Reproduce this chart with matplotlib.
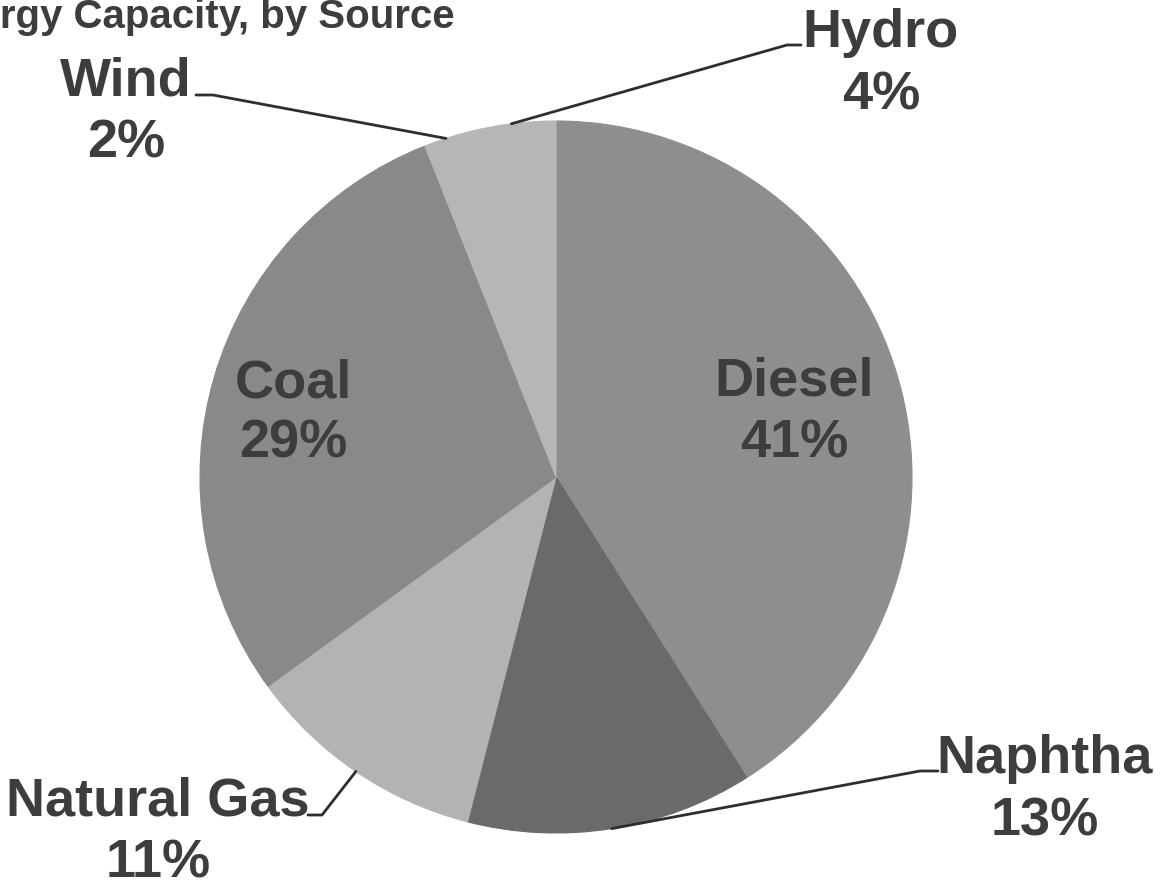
import matplotlib
matplotlib.use("Agg")
import matplotlib.pyplot as plt
import numpy as np

# Share of installed capacity by source (percent), clockwise from 12 o'clock
sources = ["Diesel", "Naphtha", "Natural Gas", "Coal", "Wind", "Hydro"]
shares = [41, 13, 11, 29, 2, 4]
colors = ["#8e8e8e", "#6a6a6a", "#b3b3b3", "#898989", "#b6b6b6", "#b6b6b6"]
title = "Energy Capacity, by Source"

W, H = 1163, 893
DPI = 100
plt.rcParams["font.family"] = ["Liberation Sans", "DejaVu Sans"]
TXT = "#3d3d3d"

fig = plt.figure(figsize=(W / DPI, H / DPI), dpi=DPI, facecolor="white")

# pie centre and radius in pixels (from top-left)
CX, CY, R = 556, 477, 356
ax = fig.add_axes([(CX - R) / W, (H - CY - R) / H, 2 * R / W, 2 * R / H])
wedges, _ = ax.pie(shares, colors=colors, startangle=90, counterclock=False,
                   radius=1.0)
# outline each wedge in its own colour so neighbouring slices meet without seams
for w in wedges:
    w.set_edgecolor(w.get_facecolor())
    w.set_linewidth(0.8)
ax.set_xlim(-1, 1)
ax.set_ylim(-1, 1)
ax.set_aspect("equal")
ax.axis("off")


def px(x, y):
    """pixel position (top-left origin) -> pie data coordinates"""
    return (x - CX) / R, (CY - y) / R


def wedge_edge(i, r=1.0):
    w = wedges[i]
    a = np.deg2rad((w.theta1 + w.theta2) / 2)
    return r * np.cos(a), r * np.sin(a)


FS = 39


def label(i, cx, y_name, y_pct):
    x, _ = px(cx, 0)
    ax.text(x, px(0, y_name)[1], sources[i], ha="center", va="baseline",
            fontsize=FS, fontweight="bold", color=TXT, clip_on=False)
    ax.text(x, px(0, y_pct)[1], f"{shares[i]}%", ha="center", va="baseline",
            fontsize=FS, fontweight="bold", color=TXT, clip_on=False)


def leader(i, elbow, end, r=1.0):
    x0, y0 = wedge_edge(i, r)
    x1, y1 = px(*elbow)
    x2, y2 = px(*end)
    ax.plot([x0, x1, x2], [y0, y1, y2], color="#2e2e2e", lw=2.0,
            clip_on=False, solid_capstyle="round", solid_joinstyle="round")


# data labels
label(0, 794, 395, 457)    # Diesel
label(1, 1045, 773, 835)   # Naphtha
label(2, 158, 815, 878)    # Natural Gas
label(3, 293, 397, 458)    # Coal
label(4, 126, 96, 158)     # Wind
label(5, 881, 47, 110)     # Hydro

# leader lines for the outside labels
leader(1, (920, 771), (938, 771))
leader(2, (322, 815), (308, 815))
leader(4, (213, 95), (196, 95))
leader(5, (787, 45), (801, 45))

# title (runs past the left edge of the canvas)
fig.text(455 / W, 1 - 28 / H, title, ha="right", va="baseline",
         fontsize=29, fontweight="bold", color=TXT)

fig.savefig("out.png", dpi=DPI, facecolor="white")
